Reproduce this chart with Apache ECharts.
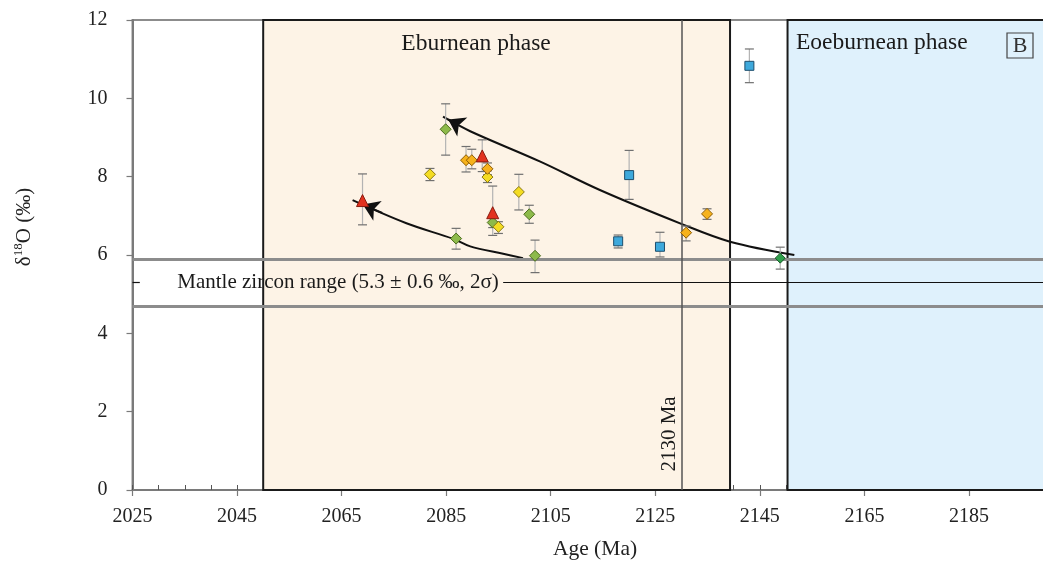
<!DOCTYPE html>
<html><head><meta charset="utf-8">
<script src="https://cdn.jsdelivr.net/npm/echarts@6/dist/echarts.min.js"></script>
<style>html,body{margin:0;padding:0;background:#fff}#c{width:1043px;height:562px}</style>
</head><body><div id="c"></div>
<script>
// ---- axis ranges ----
const xMin = 2025, xMax = 2205, xStep = 20, xMinorStep = 5;
const yMin = 0, yMax = 12, yStep = 2;

// ---- phases / reference lines ----
const eburneanRange = [2050, 2139.3];
const eoeburneanRange = [2150.3, 2205];
const markerAge = 2130;
const mantleUpper = 5.9, mantleLower = 4.7, mantleMean = 5.3;

// ---- data (age Ma, d18O permil, error low, error high) ----
const greenAge  = [2084.9, 2086.9, 2093.9, 2100.9, 2102.0];
const greenD18O = [9.21, 6.42, 6.83, 7.04, 5.98];
const greenLow  = [8.55, 6.15, 6.50, 6.81, 5.55];
const greenHigh = [9.86, 6.68, 7.00, 7.27, 6.38];

const yellowAge  = [2081.9, 2092.9, 2095.0, 2098.9];
const yellowD18O = [8.06, 7.99, 6.72, 7.61];
const yellowLow  = [7.90, 7.85, 6.55, 7.15];
const yellowHigh = [8.21, 8.15, 6.85, 8.06];

const orangeAge  = [2088.8, 2089.9, 2092.9, 2130.9, 2134.9];
const orangeD18O = [8.42, 8.42, 8.20, 6.57, 7.05];
const orangeLow  = [8.12, 8.20, 8.05, 6.36, 6.91];
const orangeHigh = [8.77, 8.70, 8.35, 6.74, 7.18];

const redAge  = [2069.0, 2091.9, 2093.9];
const redD18O = [7.39, 8.53, 7.08];
const redLow  = [6.77, 8.13, 6.70];
const redHigh = [8.07, 8.94, 7.76];

const blueAge  = [2117.9, 2120.0, 2125.9, 2143.0];
const blueD18O = [6.35, 8.04, 6.21, 10.83];
const blueLow  = [6.18, 7.42, 5.95, 10.40];
const blueHigh = [6.51, 8.67, 6.58, 11.26];

const dkGreenAge  = [2148.9];
const dkGreenD18O = [5.92];
const dkGreenLow  = [5.64];
const dkGreenHigh = [6.20];

// ---- trend arrows ----
const upperArrowAge  = [2151.6, 2139.3, 2130.1, 2114.4, 2102.9, 2089.6, 2084.4];
const upperArrowD18O = [6.00, 6.34, 6.79, 7.66, 8.39, 9.16, 9.53];
const lowerArrowAge  = [2099.7, 2095.9, 2089.6, 2086.4, 2077.4, 2067.1];
const lowerArrowD18O = [5.92, 6.03, 6.22, 6.41, 6.81, 7.40];

const FONT = '"Liberation Serif", "DejaVu Serif", serif';
const zip = (a, b) => a.map((v, i) => [v, b[i]]);
const zip3 = (a, b, c) => a.map((v, i) => [v, b[i], c[i]]);

function arrowHead(ages, ds) {
  const n = ages.length;
  const tip = [ages[n - 1], ds[n - 1]], prev = [ages[n - 2], ds[n - 2]];
  const at = f => [tip[0] + f * (prev[0] - tip[0]), tip[1] + f * (prev[1] - tip[1])];
  return [{ coords: [at(0.55), at(0.19)] }];
}

function errRender(params, api) {
  const a = api.value(0), lo = api.value(1), hi = api.value(2);
  const p1 = api.coord([a, hi]), p2 = api.coord([a, lo]);
  const w = 4.5;
  const s1 = { stroke: '#b3b3b3', lineWidth: 1.2 };
  const s2 = { stroke: '#707070', lineWidth: 1.2 };
  return { type: 'group', children: [
    { type: 'line', shape: { x1: p1[0], y1: p1[1], x2: p2[0], y2: p2[1] }, style: s1 },
    { type: 'line', shape: { x1: p1[0] - w, y1: p1[1], x2: p1[0] + w, y2: p1[1] }, style: s2 },
    { type: 'line', shape: { x1: p2[0] - w, y1: p2[1], x2: p2[0] + w, y2: p2[1] }, style: s2 }
  ]};
}

const groups = [
  { age: greenAge, d: greenD18O, lo: greenLow, hi: greenHigh, symbol: 'diamond', size: 11, color: '#8dba4a', border: '#4b6b1e' },
  { age: yellowAge, d: yellowD18O, lo: yellowLow, hi: yellowHigh, symbol: 'diamond', size: 11, color: '#f4dc22', border: '#8a7812' },
  { age: orangeAge, d: orangeD18O, lo: orangeLow, hi: orangeHigh, symbol: 'diamond', size: 11, color: '#f6b21c', border: '#8d5c04' },
  { age: redAge, d: redD18O, lo: redLow, hi: redHigh, symbol: 'triangle', size: 12, color: '#e2321f', border: '#8a1c10' },
  { age: blueAge, d: blueD18O, lo: blueLow, hi: blueHigh, symbol: 'rect', size: 9, color: '#3ea9dc', border: '#1d4e6c' },
  { age: dkGreenAge, d: dkGreenD18O, lo: dkGreenLow, hi: dkGreenHigh, symbol: 'diamond', size: 10, color: '#2f9f4b', border: '#175a27' }
];

const series = [];
series.push({
  type: 'scatter', data: [], silent: true, z: 1,
  markArea: { silent: true, data: [
    [{ xAxis: eburneanRange[0], yAxis: yMin, itemStyle: { color: '#fdf3e6', borderColor: '#1a1a1a', borderWidth: 2 } }, { xAxis: eburneanRange[1], yAxis: yMax }],
    [{ xAxis: eoeburneanRange[0], yAxis: yMin, itemStyle: { color: '#dff1fc', borderColor: '#1a1a1a', borderWidth: 2 } }, { xAxis: eoeburneanRange[1], yAxis: yMax }]
  ]}
});
series.push({
  type: 'scatter', data: [], silent: true, z: 2,
  markLine: { silent: true, symbol: 'none', animation: false, label: { show: false }, data: [
    { yAxis: mantleUpper, lineStyle: { color: '#8c8c8c', width: 3, type: 'solid' } },
    { yAxis: mantleLower, lineStyle: { color: '#8c8c8c', width: 3, type: 'solid' } },
    { xAxis: markerAge, lineStyle: { color: '#555', width: 1.5, type: 'solid' } },
    [{ coord: [xMin, mantleMean], lineStyle: { color: '#111', width: 1.2, type: 'solid' } }, { coord: [2026.4, mantleMean] }],
    [{ coord: [2095.9, mantleMean], lineStyle: { color: '#111', width: 1.2, type: 'solid' } }, { coord: [xMax, mantleMean] }]
  ]}
});
[[upperArrowAge, upperArrowD18O], [lowerArrowAge, lowerArrowD18O]].forEach(([a, d]) => {
  series.push({ type: 'line', data: zip(a, d), smooth: 0.35, showSymbol: false, symbol: 'none', z: 3,
    lineStyle: { color: '#111', width: 2 }, silent: true });
  series.push({ type: 'lines', coordinateSystem: 'cartesian2d', data: arrowHead(a, d), z: 4, silent: true,
    symbol: ['none', 'arrow'], symbolSize: 16, itemStyle: { color: '#111' },
    lineStyle: { color: '#111', width: 2, opacity: 1, curveness: 0 } });
});
groups.forEach(g => {
  series.push({ type: 'custom', renderItem: errRender, data: zip3(g.age, g.lo, g.hi), encode: { x: 0, y: [1, 2] }, z: 5, silent: true });
});
groups.forEach(g => {
  series.push({ type: 'scatter', data: zip(g.age, g.d), symbol: g.symbol, symbolSize: g.size, z: 6,
    itemStyle: { color: g.color, borderColor: g.border, borderWidth: 1, opacity: 1 } });
});

const plain = v => String(v);
const chart = echarts.init(document.getElementById('c'), null, { renderer: 'canvas' });
chart.setOption({
  animation: false,
  backgroundColor: '#fff',
  grid: { left: 132.5, top: 20, right: -30.5, bottom: 72, outerBoundsMode: 'none', containLabel: false,
    show: true, borderColor: '#8c8c8c', borderWidth: 2, backgroundColor: 'transparent' },
  xAxis: [
    { type: 'value', min: xMin, max: xMax, interval: xStep, position: 'bottom',
      axisLine: { show: true, lineStyle: { color: '#7a7a7a', width: 2 } },
      axisTick: { show: true, length: 6, lineStyle: { color: '#7a7a7a', width: 1.2 } },
      axisLabel: { color: '#222', fontFamily: FONT, fontSize: 20, margin: 17, formatter: plain },
      splitLine: { show: false } },
    { type: 'value', min: xMin, max: xMax, interval: xMinorStep, position: 'bottom', offset: 0,
      axisLine: { show: false }, axisLabel: { show: false }, splitLine: { show: false },
      axisTick: { show: true, inside: true, length: 5, lineStyle: { color: '#555', width: 1 } } }
  ],
  yAxis: { type: 'value', min: yMin, max: yMax, interval: yStep,
    axisLine: { show: true, lineStyle: { color: '#7a7a7a', width: 2 } },
    axisTick: { show: true, length: 6, lineStyle: { color: '#7a7a7a', width: 1.2 } },
    axisLabel: { color: '#222', fontFamily: FONT, fontSize: 20, margin: 25, formatter: plain },
    splitLine: { show: false } },
  series: series,
  graphic: [
    { type: 'text', x: 595, y: 549, z: 100, style: { text: 'Age (Ma)', fontFamily: FONT, fontSize: 21.5, fill: '#222', align: 'center', verticalAlign: 'middle' } },
    { type: 'text', x: 24, y: 227, rotation: Math.PI / 2, z: 100, style: { text: 'δ{sup|18}O (‰)', fontFamily: FONT, fontSize: 21, fill: '#222', align: 'center', verticalAlign: 'middle',
        rich: { sup: { fontFamily: FONT, fontSize: 13, fill: '#222', padding: [0, 0, 10, 0] } } } },
    { type: 'text', x: 476, y: 44, z: 100, style: { text: 'Eburnean phase', fontFamily: FONT, fontSize: 23.5, fill: '#1a1a1a', align: 'center', verticalAlign: 'middle' } },
    { type: 'text', x: 796, y: 43, z: 100, style: { text: 'Eoeburnean phase', fontFamily: FONT, fontSize: 23.5, fill: '#1a1a1a', align: 'left', verticalAlign: 'middle' } },
    { type: 'rect', z: 100, shape: { x: 1007, y: 33, width: 26, height: 25 }, style: { fill: 'none', stroke: '#444', lineWidth: 1.2 } },
    { type: 'text', x: 1020, y: 46.5, z: 100, style: { text: 'B', fontFamily: FONT, fontSize: 22, fill: '#333', align: 'center', verticalAlign: 'middle' } },
    { type: 'text', x: 338, y: 282.5, z: 100, style: { text: 'Mantle zircon range (5.3 ± 0.6 ‰, 2σ)', fontFamily: FONT, fontSize: 21, fill: '#1a1a1a', align: 'center', verticalAlign: 'middle' } },
    { type: 'text', x: 669, y: 434, rotation: Math.PI / 2, z: 100, style: { text: '2130 Ma', fontFamily: FONT, fontSize: 21, fill: '#1a1a1a', align: 'center', verticalAlign: 'middle' } }
  ]
});
</script>
</body></html>
